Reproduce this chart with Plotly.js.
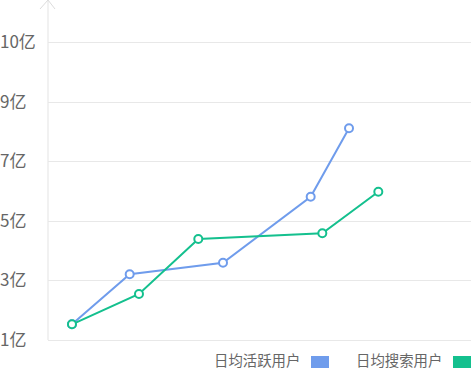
<!DOCTYPE html>
<html>
<head>
<meta charset="utf-8">
<script src="https://cdn.plot.ly/plotly-3.0.1.min.js"></script>
<style>html,body{margin:0;padding:0;background:#fff;}#chart{width:471px;height:370px;}</style>
</head>
<body>
<div id="chart"></div>
<script>
// Data
const seriesNames = ['日均活跃用户', '日均搜索用户'];
const seriesColors = ['#6f9cec', '#14c08e'];
const activeX = [5.67, 19.31, 41.37, 62.10, 71.16];
const activeY = [0.264, 1.104, 1.299, 2.408, 3.558];
const searchX = [5.67, 21.51, 35.53, 64.85, 78.09];
const searchY = [0.264, 0.773, 1.697, 1.793, 2.492];
const yTickVals = [0, 1, 2, 3, 4, 5];
const yTickText = ['1亿', '3亿', '5亿', '7亿', '9亿', '10亿'];

const W = 471, H = 370, ML = 48, MR = 0, MT = 0, MB = 18;
const PW = W - ML - MR, PH = H - MT - MB;
const px = v => (v - ML) / PW;
const py = v => (H - MB - v) / PH;
const unit = 59.5;
const yMin = -(PH - 340) / unit;
const yMax = yMin + PH / unit;

function mk(x, y, i) {
  return {
    x: x, y: y, name: seriesNames[i], type: 'scatter', mode: 'lines+markers',
    line: {color: seriesColors[i], width: 2},
    marker: {symbol: 'circle', size: 8, color: '#ffffff', line: {color: seriesColors[i], width: 2}},
    showlegend: false, hoverinfo: 'skip', cliponaxis: false
  };
}
const data = [mk(activeX, activeY, 0), mk(searchX, searchY, 1)];

const legendRight = [300, 442];
const shapes = [
  {type: 'path', xref: 'paper', yref: 'paper',
   path: 'M' + px(40) + ',' + py(9) + ' L' + px(48) + ',' + py(0) + ' L' + px(55) + ',' + py(9),
   line: {color: '#dcdcdc', width: 1}},
  {type: 'line', xref: 'paper', yref: 'paper', x0: 0, x1: 0, y0: py(340), y1: 1,
   line: {color: '#e3e3e3', width: 1}, layer: 'below'}
];
const annotations = [];
seriesNames.forEach((n, i) => {
  annotations.push({
    xref: 'paper', yref: 'paper', x: px(legendRight[i] + 1), y: py(359.5),
    xanchor: 'right', yanchor: 'middle', showarrow: false, text: n, borderpad: 0,
    font: {family: 'Noto Sans CJK SC, sans-serif', size: 14.4, color: '#666666'}
  });
  shapes.push({
    type: 'rect', xref: 'paper', yref: 'paper',
    x0: px(legendRight[i] + 11), x1: px(legendRight[i] + 29),
    y0: py(356), y1: py(368),
    fillcolor: seriesColors[i], line: {width: 0}
  });
});

const layout = {
  width: W, height: H,
  margin: {l: ML, r: MR, t: MT, b: MB, pad: 0},
  paper_bgcolor: '#ffffff', plot_bgcolor: '#ffffff',
  xaxis: {range: [0, 100], showgrid: false, zeroline: false, showticklabels: false,
          showline: false, ticks: ''},
  yaxis: {range: [yMin, yMax], tickvals: yTickVals, ticktext: yTickText,
          showgrid: true, gridcolor: '#e8e8e8', gridwidth: 1, zeroline: false,
          showline: false, ticks: '',
          ticklabelposition: 'inside', ticklabelstandoff: -51,
          tickfont: {family: 'Noto Sans CJK SC, sans-serif', size: 17, color: '#666666'}},
  shapes: shapes, annotations: annotations, showlegend: false
};
Plotly.newPlot('chart', data, layout, {displayModeBar: false, staticPlot: true});
</script>
</body>
</html>
